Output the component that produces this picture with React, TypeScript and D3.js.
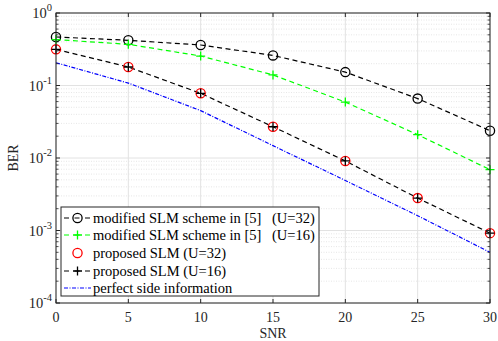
import React from "react";
import * as d3 from "d3";

const snr = [0, 5, 10, 15, 20, 25, 30];
const modifiedU32 = [0.467, 0.42, 0.362, 0.26, 0.153, 0.066, 0.0238];
const modifiedU16 = [0.43, 0.37, 0.255, 0.14, 0.059, 0.021, 0.0069];
const proposedU32 = [0.315, 0.18, 0.078, 0.027, 0.0091, 0.0028, 0.00092];
const proposedU16 = [0.315, 0.18, 0.078, 0.027, 0.0091, 0.0028, 0.00092];
const perfectSide = [0.206, 0.108, 0.045, 0.0148, 0.0049, 0.0016, 0.0005];

const xTicks = [0, 5, 10, 15, 20, 25, 30];
const yExps = [0, -1, -2, -3, -4];

const legendLabels = [
  ["modified SLM scheme in [5]", "(U=32)"],
  ["modified SLM scheme in [5]", "(U=16)"],
  ["proposed SLM (U=32)", ""],
  ["proposed SLM (U=16)", ""],
  ["perfect side information", ""],
];

const W = 498;
const H = 341;
const m = { left: 56, right: 490, top: 13, bottom: 303 };
const font = "'Liberation Serif', 'Times New Roman', serif";

const App = () => {
  const x = d3.scaleLinear().domain([0, 30]).range([m.left, m.right]);
  const y = d3.scaleLog().domain([1e-4, 1]).range([m.bottom, m.top]);

  const line = (vals: number[]) =>
    d3
      .line<number>()
      .x((_, i) => x(snr[i]))
      .y((v) => y(v))(vals) as string;

  // minor grid values
  const minors: number[] = [];
  for (let e = -4; e < 0; e++) {
    for (let k = 2; k <= 9; k++) minors.push(k * Math.pow(10, e));
  }

  const circle = (cx: number, cy: number, color: string, key: string) => (
    <circle key={key} cx={cx} cy={cy} r={4.6} fill="none" stroke={color} strokeWidth={1.3} />
  );
  const plus = (cx: number, cy: number, color: string, key: string) => (
    <path
      key={key}
      d={`M${cx - 4.5},${cy}H${cx + 4.5}M${cx},${cy - 4.5}V${cy + 4.5}`}
      stroke={color}
      strokeWidth={1.3}
      fill="none"
    />
  );

  const dash = "5,3.5";
  const dashDot = "4,1.5,1,1.5";

  const legX = 61;
  const legRows = [218, 235, 253, 271, 288];

  return (
    <svg width={W} height={H} style={{ position: "absolute", left: 0, top: 0, background: "#fff" }}>
      <rect x={m.left} y={m.top} width={m.right - m.left} height={m.bottom - m.top} fill="#fff" />
      {/* minor grid */}
      {minors.map((v, i) => (
        <line
          key={"mg" + i}
          x1={m.left}
          x2={m.right}
          y1={y(v)}
          y2={y(v)}
          stroke="#e0e0e0"
          strokeWidth={0.8}
          strokeDasharray="1,1.5"
        />
      ))}
      {/* major grid */}
      {yExps.map((e) => (
        <line key={"gy" + e} x1={m.left} x2={m.right} y1={y(Math.pow(10, e))} y2={y(Math.pow(10, e))} stroke="#e2e2e2" strokeWidth={1} />
      ))}
      {xTicks.map((t) => (
        <line key={"gx" + t} x1={x(t)} x2={x(t)} y1={m.top} y2={m.bottom} stroke="#e2e2e2" strokeWidth={1} />
      ))}

      {/* series */}
      <path d={line(modifiedU32)} fill="none" stroke="#000" strokeWidth={1.2} strokeDasharray={dash} />
      <path d={line(modifiedU16)} fill="none" stroke="#00ff00" strokeWidth={1.2} strokeDasharray={dash} />
      <path d={line(proposedU16)} fill="none" stroke="#000" strokeWidth={1.2} strokeDasharray={dash} />
      <path d={line(perfectSide)} fill="none" stroke="#0000ff" strokeWidth={1.2} strokeDasharray={dashDot} />
      {modifiedU32.map((v, i) => circle(x(snr[i]), y(v), "#000", "c32" + i))}
      {modifiedU16.map((v, i) => plus(x(snr[i]), y(v), "#00ff00", "p16" + i))}
      {proposedU32.map((v, i) => circle(x(snr[i]), y(v), "#ff0000", "r32" + i))}
      {proposedU16.map((v, i) => plus(x(snr[i]), y(v), "#000", "k16" + i))}

      {/* axes box */}
      <rect x={m.left} y={m.top} width={m.right - m.left} height={m.bottom - m.top} fill="none" stroke="#262626" strokeWidth={1} />
      {xTicks.map((t) => (
        <g key={"xt" + t}>
          <line x1={x(t)} x2={x(t)} y1={m.bottom} y2={m.bottom - 4} stroke="#262626" />
          <line x1={x(t)} x2={x(t)} y1={m.top} y2={m.top + 4} stroke="#262626" />
          <text x={x(t)} y={m.bottom + 19} textAnchor="middle" fontFamily={font} fontSize={14} fill="#262626">
            {t}
          </text>
        </g>
      ))}
      {minors.map((v, i) => (
        <g key={"ymt" + i}>
          <line x1={m.left} x2={m.left + 2.5} y1={y(v)} y2={y(v)} stroke="#262626" strokeWidth={0.8} />
          <line x1={m.right} x2={m.right - 2.5} y1={y(v)} y2={y(v)} stroke="#262626" strokeWidth={0.8} />
        </g>
      ))}
      {yExps.map((e) => (
        <g key={"yt" + e}>
          <line x1={m.left} x2={m.left + 4} y1={y(Math.pow(10, e))} y2={y(Math.pow(10, e))} stroke="#262626" />
          <line x1={m.right} x2={m.right - 4} y1={y(Math.pow(10, e))} y2={y(Math.pow(10, e))} stroke="#262626" />
          <text x={m.left - 4} y={y(Math.pow(10, e)) + 5} textAnchor="end" fontFamily={font} fontSize={14.5} fill="#262626">
            10
            <tspan dy={-7} fontSize={10.5}>
              {e}
            </tspan>
          </text>
        </g>
      ))}
      <text x={m.left + (m.right - m.left) / 2} y={338} textAnchor="middle" fontFamily={font} fontSize={14} fill="#262626">
        SNR
      </text>
      <text
        transform={`translate(18,${(m.top + m.bottom) / 2}) rotate(-90)`}
        textAnchor="middle"
        fontFamily={font}
        fontSize={14}
        fill="#262626"
      >
        BER
      </text>

      {/* legend */}
      <rect x={legX} y={207} width={258} height={89} fill="#fff" stroke="#262626" strokeWidth={1} />
      {legendLabels.map((lab, i) => {
        const ry = legRows[i];
        const lx1 = legX + 3;
        const lx2 = legX + 30;
        const mx = (lx1 + lx2) / 2;
        return (
          <g key={"lg" + i}>
            {i === 0 && (
              <>
                <line x1={lx1} x2={lx2} y1={ry} y2={ry} stroke="#000" strokeWidth={1.2} strokeDasharray="5,5.5" />
                {circle(mx, ry, "#000", "lc0")}
              </>
            )}
            {i === 1 && (
              <>
                <line x1={lx1} x2={lx2} y1={ry} y2={ry} stroke="#00ff00" strokeWidth={1.2} strokeDasharray="5,5.5" />
                {plus(mx, ry, "#00ff00", "lp1")}
              </>
            )}
            {i === 2 && circle(mx, ry, "#ff0000", "lc2")}
            {i === 3 && (
              <>
                <line x1={lx1} x2={lx2} y1={ry} y2={ry} stroke="#000" strokeWidth={1.2} strokeDasharray="5,5.5" />
                {plus(mx, ry, "#000", "lp3")}
              </>
            )}
            {i === 4 && (
              <line x1={lx1} x2={lx2} y1={ry} y2={ry} stroke="#0000ff" strokeWidth={1.2} strokeDasharray={dashDot} />
            )}
            <text x={legX + 32} y={ry + 5} fontFamily={font} fontSize={14.5} fill="#000">
              {lab[0]}
            </text>
            {lab[1] && (
              <text x={legX + 211} y={ry + 5} fontFamily={font} fontSize={14.5} fill="#000">
                {lab[1]}
              </text>
            )}
          </g>
        );
      })}
    </svg>
  );
};

export default App;
